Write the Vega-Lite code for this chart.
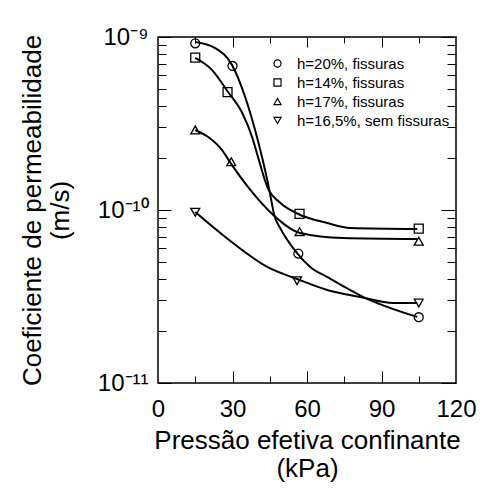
{
  "$schema": "https://vega.github.io/schema/vega-lite/v6.json",
  "width": 298,
  "height": 346,
  "autosize": "none",
  "padding": {"left": 158, "top": 37, "right": 27, "bottom": 107},
  "background": "white",
  "config": {
    "font": "Liberation Sans",
    "view": {"stroke": "black", "strokeWidth": 1.5}
  },
  "datasets": {
    "curves": [
      {"series": "h=20%, fissuras", "x": 15, "k": 9.35e-10},
      {"series": "h=20%, fissuras", "x": 23, "k": 8.63e-10},
      {"series": "h=20%, fissuras", "x": 29.8, "k": 6.89e-10},
      {"series": "h=20%, fissuras", "x": 35.1, "k": 4.5e-10},
      {"series": "h=20%, fissuras", "x": 39.1, "k": 2.9e-10},
      {"series": "h=20%, fissuras", "x": 41.9, "k": 2.02e-10},
      {"series": "h=20%, fissuras", "x": 44.0, "k": 1.49e-10},
      {"series": "h=20%, fissuras", "x": 45.6, "k": 1.14e-10},
      {"series": "h=20%, fissuras", "x": 46.8, "k": 9.36e-11},
      {"series": "h=20%, fissuras", "x": 49.2, "k": 7.87e-11},
      {"series": "h=20%, fissuras", "x": 56.0, "k": 5.64e-11},
      {"series": "h=20%, fissuras", "x": 61.3, "k": 4.69e-11},
      {"series": "h=20%, fissuras", "x": 68.1, "k": 4.1e-11},
      {"series": "h=20%, fissuras", "x": 82.7, "k": 3.14e-11},
      {"series": "h=20%, fissuras", "x": 104.4, "k": 2.41e-11},
      {"series": "h=14%, fissuras", "x": 15, "k": 7.57e-10},
      {"series": "h=14%, fissuras", "x": 21.8, "k": 6.44e-10},
      {"series": "h=14%, fissuras", "x": 28.2, "k": 4.81e-10},
      {"series": "h=14%, fissuras", "x": 33.9, "k": 3.64e-10},
      {"series": "h=14%, fissuras", "x": 37.9, "k": 2.64e-10},
      {"series": "h=14%, fissuras", "x": 40.3, "k": 2.02e-10},
      {"series": "h=14%, fissuras", "x": 44.0, "k": 1.36e-10},
      {"series": "h=14%, fissuras", "x": 49.2, "k": 1.1e-10},
      {"series": "h=14%, fissuras", "x": 56.5, "k": 9.48e-11},
      {"series": "h=14%, fissuras", "x": 68.1, "k": 8.41e-11},
      {"series": "h=14%, fissuras", "x": 77.4, "k": 7.87e-11},
      {"series": "h=14%, fissuras", "x": 104.4, "k": 7.76e-11},
      {"series": "h=17%, fissuras", "x": 15, "k": 2.9e-10},
      {"series": "h=17%, fissuras", "x": 20.2, "k": 2.64e-10},
      {"series": "h=17%, fissuras", "x": 25.8, "k": 2.22e-10},
      {"series": "h=17%, fissuras", "x": 29, "k": 1.89e-10},
      {"series": "h=17%, fissuras", "x": 37.1, "k": 1.31e-10},
      {"series": "h=17%, fissuras", "x": 46.4, "k": 9.36e-11},
      {"series": "h=17%, fissuras", "x": 57.3, "k": 7.36e-11},
      {"series": "h=17%, fissuras", "x": 74.6, "k": 6.89e-11},
      {"series": "h=17%, fissuras", "x": 104.4, "k": 6.8e-11},
      {"series": "h=16,5%, sem fissuras", "x": 15, "k": 9.73e-11},
      {"series": "h=16,5%, sem fissuras", "x": 30.2, "k": 6.44e-11},
      {"series": "h=16,5%, sem fissuras", "x": 44, "k": 4.69e-11},
      {"series": "h=16,5%, sem fissuras", "x": 56, "k": 3.99e-11},
      {"series": "h=16,5%, sem fissuras", "x": 68.1, "k": 3.45e-11},
      {"series": "h=16,5%, sem fissuras", "x": 81.5, "k": 3.14e-11},
      {"series": "h=16,5%, sem fissuras", "x": 94.8, "k": 2.9e-11},
      {"series": "h=16,5%, sem fissuras", "x": 104.4, "k": 2.9e-11}
    ],
    "points": [
      {"series": "h=20%, fissuras", "x": 15, "k": 9.2e-10},
      {"series": "h=20%, fissuras", "x": 30, "k": 6.8e-10},
      {"series": "h=20%, fissuras", "x": 56.5, "k": 5.6e-11},
      {"series": "h=20%, fissuras", "x": 105, "k": 2.4e-11},
      {"series": "h=14%, fissuras", "x": 15, "k": 7.6e-10},
      {"series": "h=14%, fissuras", "x": 28, "k": 4.8e-10},
      {"series": "h=14%, fissuras", "x": 57, "k": 9.5e-11},
      {"series": "h=14%, fissuras", "x": 105, "k": 7.8e-11},
      {"series": "h=17%, fissuras", "x": 15, "k": 2.9e-10},
      {"series": "h=17%, fissuras", "x": 29.5, "k": 1.9e-10},
      {"series": "h=17%, fissuras", "x": 57, "k": 7.5e-11},
      {"series": "h=17%, fissuras", "x": 105, "k": 6.6e-11},
      {"series": "h=16,5%, sem fissuras", "x": 15, "k": 9.7e-11},
      {"series": "h=16,5%, sem fissuras", "x": 56, "k": 3.9e-11},
      {"series": "h=16,5%, sem fissuras", "x": 105, "k": 2.9e-11}
    ]
  },
  "layer": [
    {
      "data": {"name": "curves"},
      "transform": [{"filter": "datum.series === 'h=20%, fissuras'"}],
      "mark": {"type": "line", "color": "black", "strokeWidth": 2, "interpolate": "monotone"},
      "encoding": {
        "x": {"field": "x", "type": "quantitative", "scale": {"domain": [0, 120], "nice": false, "zero": false},
          "axis": {"orient": "bottom", "values": [0, 30, 60, 90, 120], "grid": false, "domain": false, "ticks": false, "labelFlush": false, "labelOverlap": false, "labelColor": "black", "labelFontSize": 24, "labelPadding": 14, "title": ["Pressão efetiva confinante", "(kPa)"], "titleFontWeight": "normal", "titleColor": "black", "titleFontSize": 26, "titlePadding": 6}},
        "y": {"field": "k", "type": "quantitative", "scale": {"type": "log", "domain": [1e-11, 1e-9], "nice": false},
          "axis": {"orient": "left", "values": [1e-11, 1e-10, 1e-9], "grid": false, "domain": false, "ticks": false, "labelFlush": false, "labelOverlap": false, "labelColor": "black", "labelFontSize": 24, "labelPadding": 10, "labelExpr": "datum.value > 3e-10 ? '10⁻⁹' : (datum.value > 3e-11 ? '10⁻¹⁰' : '10⁻¹¹')", "title": ["Coeficiente de permeabilidade", "(m/s)"], "titleFontWeight": "normal", "titleColor": "black", "titleFontSize": 26, "titlePadding": 24}}
      }
    },
    {
      "data": {"name": "curves"},
      "transform": [{"filter": "datum.series === 'h=14%, fissuras'"}],
      "mark": {"type": "line", "color": "black", "strokeWidth": 2, "interpolate": "monotone"},
      "encoding": {
        "x": {"field": "x", "type": "quantitative", "scale": {"domain": [0, 120], "nice": false, "zero": false},
          "axis": {"orient": "bottom", "values": [30, 60, 90], "grid": false, "domain": false, "labels": false, "tickColor": "black", "tickSize": 12, "offset": -12, "title": null}},
        "y": {"field": "k", "type": "quantitative", "scale": {"type": "log", "domain": [1e-11, 1e-9], "nice": false},
          "axis": {"orient": "left", "values": [1e-11, 1e-10, 1e-9], "grid": false, "domain": false, "labels": false, "tickColor": "black", "tickSize": 13, "offset": -13, "title": null}}
      }
    },
    {
      "data": {"name": "curves"},
      "transform": [{"filter": "datum.series === 'h=17%, fissuras'"}],
      "mark": {"type": "line", "color": "black", "strokeWidth": 2, "interpolate": "monotone"},
      "encoding": {
        "x": {"field": "x", "type": "quantitative", "scale": {"domain": [0, 120], "nice": false, "zero": false},
          "axis": {"orient": "bottom", "values": [15, 45, 75, 105], "grid": false, "domain": false, "labels": false, "tickColor": "black", "tickSize": 7, "offset": -7, "title": null}},
        "y": {"field": "k", "type": "quantitative", "scale": {"type": "log", "domain": [1e-11, 1e-9], "nice": false},
          "axis": {"orient": "left", "values": [2e-11, 3e-11, 4e-11, 5e-11, 6e-11, 7e-11, 8e-11, 9e-11, 2e-10, 3e-10, 4e-10, 5e-10, 6e-10, 7e-10, 8e-10, 9e-10], "grid": false, "domain": false, "labels": false, "tickColor": "black", "tickSize": 8, "offset": -8, "title": null}}
      }
    },
    {
      "data": {"name": "curves"},
      "transform": [{"filter": "datum.series === 'h=16,5%, sem fissuras'"}],
      "mark": {"type": "line", "color": "black", "strokeWidth": 2, "interpolate": "monotone"},
      "encoding": {
        "x": {"field": "x", "type": "quantitative", "scale": {"domain": [0, 120], "nice": false, "zero": false},
          "axis": {"orient": "top", "values": [30, 60, 90], "grid": false, "domain": false, "labels": false, "tickColor": "black", "tickSize": 10, "offset": -10, "title": null}},
        "y": {"field": "k", "type": "quantitative", "scale": {"type": "log", "domain": [1e-11, 1e-9], "nice": false},
          "axis": {"orient": "right", "values": [1e-11, 1e-10, 1e-9], "grid": false, "domain": false, "labels": false, "tickColor": "black", "tickSize": 15, "offset": -15, "title": null}}
      }
    },
    {
      "data": {"name": "points"},
      "mark": {"type": "point", "filled": false, "stroke": "black", "strokeWidth": 1.3, "size": 80, "opacity": 1},
      "encoding": {
        "x": {"field": "x", "type": "quantitative", "scale": {"domain": [0, 120], "nice": false, "zero": false},
          "axis": {"orient": "top", "values": [15, 45, 75, 105], "grid": false, "domain": false, "labels": false, "tickColor": "black", "tickSize": 6, "offset": -6, "title": null}},
        "y": {"field": "k", "type": "quantitative", "scale": {"type": "log", "domain": [1e-11, 1e-9], "nice": false},
          "axis": {"orient": "right", "values": [2e-11, 3e-11, 4e-11, 5e-11, 6e-11, 7e-11, 8e-11, 9e-11, 2e-10, 3e-10, 4e-10, 5e-10, 6e-10, 7e-10, 8e-10, 9e-10], "grid": false, "domain": false, "labels": false, "tickColor": "black", "tickSize": 9, "offset": -9, "title": null}},
        "shape": {"field": "series", "type": "nominal",
          "scale": {"domain": ["h=20%, fissuras", "h=14%, fissuras", "h=17%, fissuras", "h=16,5%, sem fissuras"], "range": ["circle", "square", "triangle-up", "triangle-down"]},
          "legend": {"orient": "none", "legendX": 112, "legendY": 19, "title": null, "labelFontSize": 15, "labelColor": "black", "symbolSize": 50, "symbolStrokeColor": "black", "symbolStrokeWidth": 1.2, "labelOffset": 12, "rowPadding": 3, "padding": 0, "labelLimit": 300}}
      }
    }
  ],
  "resolve": {"scale": {"x": "independent", "y": "independent"}, "axis": {"x": "independent", "y": "independent"}}
}
